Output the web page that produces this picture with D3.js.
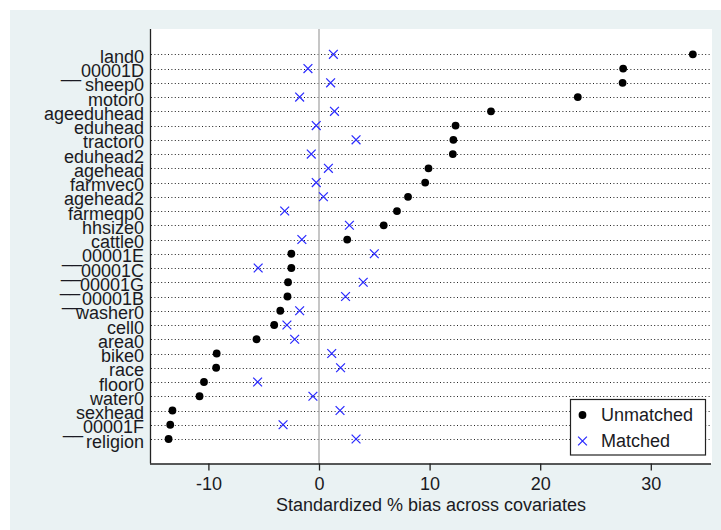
<!DOCTYPE html>
<html>
<head>
<meta charset="utf-8">
<script src="https://cdn.jsdelivr.net/npm/d3@7"></script>
<style>
  html, body { margin: 0; padding: 0; background: #ffffff; }
  svg { display: block; }
  text { font-family: "Liberation Sans", Arial, sans-serif; }
</style>
</head>
<body>
<script>
const categories = ["land0","__00001D","sheep0","motor0","ageeduhead","eduhead","tractor0","eduhead2",
  "agehead","farmvec0","agehead2","farmeqp0","hhsize0","cattle0","__00001E","__00001C","__00001G",
  "__00001B","washer0","cell0","area0","bike0","race","floor0","water0","sexhead","__00001F","religion"];
const unmatched = [33.8, 27.5, 27.45, 23.4, 15.55, 12.35, 12.15, 12.1, 9.9, 9.6, 8.05, 7.05, 5.85, 2.55,
  -2.5, -2.5, -2.8, -2.85, -3.5, -4.05, -5.65, -9.25, -9.3, -10.4, -10.8, -13.25, -13.45, -13.6];
const matched = [1.3, -1.0, 1.05, -1.75, 1.4, -0.25, 3.35, -0.7, 0.85, -0.25, 0.4, -3.1, 2.75, -1.55,
  5.0, -5.5, 4.0, 2.4, -1.75, -2.9, -2.2, 1.15, 1.95, -5.55, -0.55, 1.9, -3.25, 3.35];
const xTicks = [-10, 0, 10, 20, 30];
const xTitle = "Standardized % bias across covariates";
const legendLabels = ["Unmatched", "Matched"];

const W = 721, H = 530;
const plot = {left: 150, right: 712, top: 29, bottom: 463.5};

const svg = d3.select("body").append("svg").attr("width", W).attr("height", H);

// graph region
svg.append("rect").attr("x", 10).attr("y", 10).attr("width", W - 10).attr("height", H - 10)
  .attr("fill", "#eaf2f3");
// plot region
svg.append("rect").attr("x", plot.left).attr("y", plot.top)
  .attr("width", plot.right - plot.left).attr("height", plot.bottom - plot.top)
  .attr("fill", "#ffffff");

const x = d3.scaleLinear().domain([-10, 30]).range([208.4, 650.8]);
const y = d3.scalePoint().domain(categories).range([54.3, 439]);

// dotted row lines
svg.append("g").selectAll("line").data(categories).join("line")
  .attr("x1", plot.left + 1).attr("x2", plot.right)
  .attr("y1", d => Math.round(y(d)) + 0.5).attr("y2", d => Math.round(y(d)) + 0.5)
  .attr("stroke", "#222").attr("stroke-width", 1)
  .attr("stroke-dasharray", "1 2.4");

// zero line
svg.append("line").attr("x1", x(0)).attr("x2", x(0))
  .attr("y1", plot.top).attr("y2", plot.bottom)
  .attr("stroke", "#a8a8a8").attr("stroke-width", 1.3);

// unmatched dots
svg.append("g").selectAll("circle").data(categories).join("circle")
  .attr("cx", (d, i) => x(unmatched[i])).attr("cy", d => y(d))
  .attr("r", 3.9).attr("fill", "#000");

// matched crosses
const s = 4.4;
const xg = svg.append("g").attr("stroke", "#2a2aff").attr("stroke-width", 1.25);
categories.forEach((d, i) => {
  const cx = x(matched[i]), cy = y(d);
  xg.append("path").attr("d", `M${cx - s},${cy - s}L${cx + s},${cy + s}M${cx - s},${cy + s}L${cx + s},${cy - s}`);
});

// y axis
const yAxis = svg.append("g").attr("transform", `translate(${plot.left + 0.5},0)`)
  .call(d3.axisLeft(y).tickSize(0).tickPadding(6.5));
yAxis.select(".domain").attr("d", `M0,${plot.top}V${plot.bottom}`).attr("stroke", "#222").attr("stroke-width", 1.3);
yAxis.selectAll("text").attr("dy", "0.45em").attr("font-size", "18px")
  .attr("fill", "#1a1a22").attr("font-family", "'Liberation Sans', Arial, sans-serif");

// x axis
const xAxis = svg.append("g").attr("transform", `translate(0,${plot.bottom})`)
  .call(d3.axisBottom(x).tickValues(xTicks).tickSize(7).tickPadding(7).tickFormat(d3.format("d")));
xAxis.select(".domain").attr("d", `M${plot.left},0.5H${plot.right - 1}`).attr("stroke", "#222").attr("stroke-width", 1.3);
xAxis.selectAll(".tick line").attr("stroke", "#222").attr("stroke-width", 1.3);
xAxis.selectAll("text").attr("font-size", "18px").attr("fill", "#1a1a22")
  .attr("font-family", "'Liberation Sans', Arial, sans-serif");
xAxis.selectAll("text").text(d => d < 0 ? "-" + Math.abs(d) : d);

svg.append("text").attr("x", (plot.left + plot.right) / 2).attr("y", 510.5)
  .attr("text-anchor", "middle").attr("font-size", "18px").attr("fill", "#1a1a22")
  .text(xTitle);

// legend
const lg = svg.append("g");
lg.append("rect").attr("x", 570.5).attr("y", 399.5).attr("width", 135).attr("height", 55.5)
  .attr("fill", "#fff").attr("stroke", "#222").attr("stroke-width", 1.2);
lg.append("circle").attr("cx", 582.5).attr("cy", 415).attr("r", 3.9).attr("fill", "#000");
lg.append("path").attr("d", `M${582.5 - s},${441 - s}L${582.5 + s},${441 + s}M${582.5 - s},${441 + s}L${582.5 + s},${441 - s}`)
  .attr("stroke", "#2a2aff").attr("stroke-width", 1.25);
lg.selectAll("text.lab").data(legendLabels).join("text").attr("class", "lab")
  .attr("x", 601).attr("y", (d, i) => 421 + i * 26)
  .attr("font-size", "18px").attr("fill", "#1a1a22").text(d => d);
</script>
</body>
</html>
